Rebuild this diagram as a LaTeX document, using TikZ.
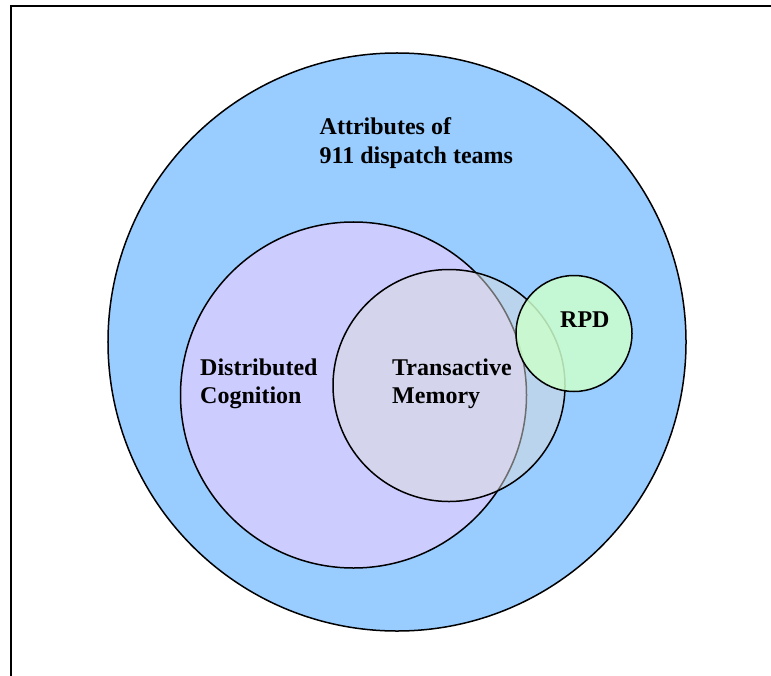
\documentclass[tikz,border=0pt]{standalone}
\usepackage{fontspec}
\setmainfont{Liberation Serif}
\begin{document}
\begin{tikzpicture}[x=1bp,y=-1bp,
  lbl/.style={anchor=base west,inner sep=0pt,font=\fontsize{24bp}{28bp}\selectfont\bfseries},
  ring/.style={draw=black,line width=1.5bp}]
\definecolor{outerblue}{RGB}{153,204,255}
\definecolor{dcpurple}{RGB}{204,204,255}
\definecolor{tmgray}{RGB}{220,220,220}
\definecolor{rpdgreen}{RGB}{204,255,204}
\useasboundingbox (0,0) rectangle (771,676);
\coordinate (tl) at (11.3,6);
\coordinate (tr) at (771,6);
\coordinate (bl) at (11.3,676);
\draw[line width=2.2bp] (bl) -- (tl) -- (tr);
% circles
\node[ring,circle,fill=outerblue,minimum size=578bp,inner sep=0pt] (attr) at (397,342) {};
\node[ring,circle,fill=dcpurple,minimum size=346bp,inner sep=0pt] (dc) at (353.5,395) {};
\node[ring,circle,fill=tmgray,fill opacity=0.5,minimum size=232bp,inner sep=0pt] (tm) at (449,385.5) {};
\node[ring,circle,fill=rpdgreen,fill opacity=0.85,minimum size=116bp,inner sep=0pt] (rpd) at (574,333.5) {};
% labels
\node[lbl] (attr1) at (319.5,135) {Attributes of};
\node[lbl] (attr2) at (319.5,163) {911 dispatch teams};
\node[lbl] (dc1) at (200,375) {Distributed};
\node[lbl] (dc2) at (200,403) {Cognition};
\node[lbl] (tm1) at (392,375) {Transactive};
\node[lbl] (tm2) at (392,403) {Memory};
\node[lbl] (rpd1) at (560,327) {RPD};
\end{tikzpicture}
\end{document}
